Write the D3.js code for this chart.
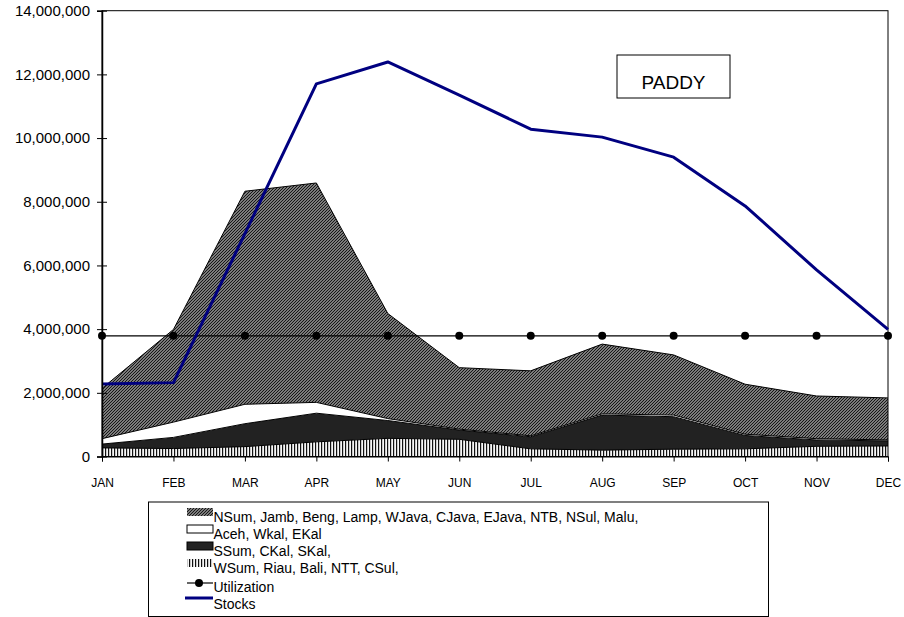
<!DOCTYPE html>
<html><head><meta charset="utf-8">
<script src="https://cdnjs.cloudflare.com/ajax/libs/d3/7.8.5/d3.min.js"></script>
<style>body{margin:0;background:#fff;}svg{font-family:"Liberation Sans",Arial,sans-serif;}</style>
</head><body><svg id="c" width="904" height="617"></svg>
<script>
const months = ["JAN","FEB","MAR","APR","MAY","JUN","JUL","AUG","SEP","OCT","NOV","DEC"];
const wsum  = [270000,250000,310000,460000,570000,540000,240000,200000,230000,240000,320000,330000];
const ssum  = [120000,350000,720000,900000,560000,290000,380000,1100000,1020000,420000,200000,160000];
const aceh  = [170000,480000,610000,340000,60000,30000,30000,40000,50000,40000,40000,30000];
const nsum  = [1580000,2910000,6690000,6890000,3300000,1930000,2040000,2190000,1890000,1570000,1340000,1320000];
const utilization = [3790000,3790000,3790000,3790000,3790000,3790000,3790000,3790000,3790000,3790000,3790000,3790000];
const stocks = [2280000,2320000,7000000,11700000,12390000,11350000,10280000,10030000,9400000,7870000,5860000,3990000];
const yTicks = [0,2000000,4000000,6000000,8000000,10000000,12000000,14000000];
const legendLabels = ["NSum, Jamb, Beng, Lamp, WJava, CJava, EJava, NTB, NSul, Malu,","Aceh, Wkal, EKal","SSum, CKal, SKal,","WSum, Riau, Bali, NTT, CSul,","Utilization","Stocks"];

const svg = d3.select("#c");
const L=102, R=888, T=10.7, B=456.5;
const x = d3.scalePoint().domain(months).range([L,R]);
const y = d3.scaleLinear().domain([0,14000000]).range([B,T]);

const defs = svg.append("defs");
const ph = defs.append("pattern").attr("id","hatch").attr("patternUnits","userSpaceOnUse").attr("width",3).attr("height",3);
ph.append("rect").attr("width",3).attr("height",3).attr("fill","#a8a8a8");
ph.append("path").attr("d","M-1,1 L1,-1 M0,3 L3,0 M2,4 L4,2").attr("stroke","#111").attr("stroke-width",1.15);
const pv = defs.append("pattern").attr("id","vstripe").attr("patternUnits","userSpaceOnUse").attr("width",3).attr("height",3);
pv.append("rect").attr("width",3).attr("height",3).attr("fill","#f6f6f6");
pv.append("rect").attr("x",0).attr("width",1.2).attr("height",3).attr("fill","#111");

// stack
const rows = months.map((m,i)=>({m, wsum:wsum[i], ssum:ssum[i], aceh:aceh[i], nsum:nsum[i]}));
const keys = ["wsum","ssum","aceh","nsum"];
const fills = {wsum:"url(#vstripe)", ssum:"#222", aceh:"#fff", nsum:"url(#hatch)"};
const stack = d3.stack().keys(keys)(rows);
const area = d3.area().x(d=>x(d.data.m)).y0(d=>y(d[0])).y1(d=>y(d[1]));
const topLine = d3.line().x(d=>x(d.data.m)).y(d=>y(d[1]));
svg.append("g").selectAll("path").data(stack).join("path")
  .attr("d",area).attr("fill",d=>fills[d.key]);
svg.append("g").selectAll("path").data(stack).join("path")
  .attr("d",topLine).attr("fill","none").attr("stroke","#000").attr("stroke-width",1);

// frame
svg.append("rect").attr("x",L).attr("y",T).attr("width",R-L).attr("height",B-T)
  .attr("fill","none").attr("stroke","#000").attr("stroke-width",1);

// utilization
const line = d3.line().x((d,i)=>x(months[i])).y(d=>y(d));
svg.append("path").attr("d",line(utilization)).attr("fill","none").attr("stroke","#000").attr("stroke-width",1.2);
svg.append("g").selectAll("circle").data(utilization).join("circle")
  .attr("cx",(d,i)=>x(months[i])).attr("cy",d=>y(d)).attr("r",4).attr("fill","#000");

// stocks
svg.append("path").attr("d",line(stocks)).attr("fill","none").attr("stroke","#000080").attr("stroke-width",3).attr("stroke-linejoin","round");

// axes
const ya = svg.append("g").attr("transform",`translate(${L},0)`)
  .call(d3.axisLeft(y).tickValues(yTicks).tickSize(5).tickPadding(7).tickFormat(d3.format(",")));
ya.select(".domain").attr("stroke","#000").attr("stroke-width",1.5);
ya.selectAll(".tick line").attr("x1",5).attr("x2",-5).attr("stroke","#000");
ya.selectAll(".tick text").attr("font-size",15).attr("fill","#000").attr("font-family","Liberation Sans, Arial, sans-serif");

const xa = svg.append("g").attr("transform",`translate(0,${B})`)
  .call(d3.axisBottom(x).tickSize(5).tickPadding(17));
xa.select(".domain").attr("stroke","#000");
xa.selectAll(".tick line").attr("stroke","#000");
xa.selectAll(".tick text").attr("font-size",12).attr("fill","#000").attr("font-family","Liberation Sans, Arial, sans-serif");

// PADDY box
svg.append("rect").attr("x",617).attr("y",55).attr("width",113).attr("height",43).attr("fill","#fff").attr("stroke","#000").attr("stroke-width",1);
svg.append("text").attr("x",673.5).attr("y",89).attr("text-anchor","middle").attr("font-size",19).text("PADDY");

// legend
const lg = svg.append("g");
lg.append("rect").attr("x",148.5).attr("y",502).attr("width",620).attr("height",114.5).attr("fill","#fff").attr("stroke","#000").attr("stroke-width",1);
const sx = 187, sw = 26;
const txtY = [522, 539, 556, 573, 592, 609];
const swFill = ["url(#hatch)","#fff","#222","url(#vstripe)"];
[0,1,2,3].forEach(i=>{
  lg.append("rect").attr("x",sx).attr("y",txtY[i]-14).attr("width",sw).attr("height",8)
    .attr("fill",swFill[i]).attr("stroke","#000").attr("stroke-width",i===0||i===3?0:1);
});
lg.append("line").attr("x1",sx).attr("x2",sx+sw).attr("y1",txtY[4]-9).attr("y2",txtY[4]-9).attr("stroke","#000").attr("stroke-width",1.2);
lg.append("circle").attr("cx",sx+12).attr("cy",txtY[4]-9).attr("r",4).attr("fill","#000");
lg.append("line").attr("x1",sx-2).attr("x2",sx+sw).attr("y1",txtY[5]-11).attr("y2",txtY[5]-11).attr("stroke","#000080").attr("stroke-width",3);
legendLabels.forEach((t,i)=>{
  lg.append("text").attr("x",213.5).attr("y",txtY[i]).attr("font-size",14).text(t);
});
</script></body></html>
